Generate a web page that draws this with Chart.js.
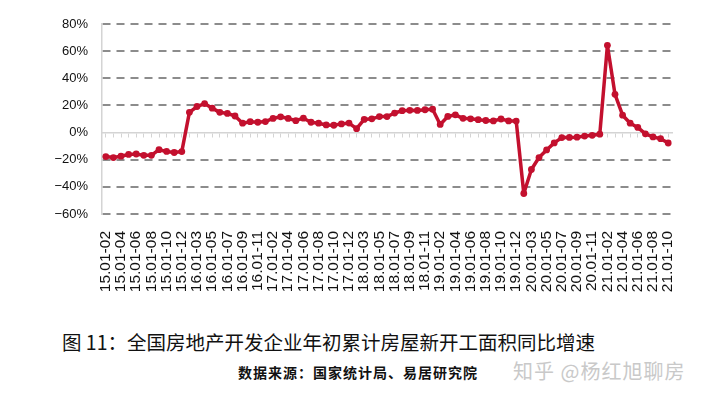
<!DOCTYPE html>
<html>
<head>
<meta charset="utf-8">
<script src="https://cdn.jsdelivr.net/npm/chart.js@4.4.1/dist/chart.umd.min.js"></script>
<style>
  html, body { margin: 0; padding: 0; background: #fff; }
  #wrap { position: relative; width: 720px; height: 408px; overflow: hidden; }
  #chartBox { position: absolute; left: 0; top: 0; width: 720px; height: 310px; }
  .cap { position: absolute; white-space: nowrap; font-family: "Noto Sans CJK SC", sans-serif; }
  #title { left: 62px; top: 327px; font-size: 19.5px; color: #111; }
  #source { left: 238px; top: 362px; font-size: 14px; font-weight: 700; color: #111; letter-spacing: 1px; }
  #mark { left: 513px; top: 356px; font-size: 20px; color: #c9c9c9; letter-spacing: 1px; }
</style>
</head>
<body>
<div id="wrap">
  <div id="chartBox"><canvas id="growthChart"></canvas></div>
  <div class="cap" id="title">图 11：全国房地产开发企业年初累计房屋新开工面积同比增速</div>
  <div class="cap" id="source">数据来源：国家统计局、易居研究院</div>
  <div class="cap" id="mark">知乎 @杨红旭聊房</div>
</div>
<script>
const months = [
  "15.01-02", "15.01-03", "15.01-04", "15.01-05", "15.01-06", "15.01-07", "15.01-08", "15.01-09", "15.01-10", "15.01-11", "15.01-12",
  "16.01-02", "16.01-03", "16.01-04", "16.01-05", "16.01-06", "16.01-07", "16.01-08", "16.01-09", "16.01-10", "16.01-11", "16.01-12",
  "17.01-02", "17.01-03", "17.01-04", "17.01-05", "17.01-06", "17.01-07", "17.01-08", "17.01-09", "17.01-10", "17.01-11", "17.01-12",
  "18.01-02", "18.01-03", "18.01-04", "18.01-05", "18.01-06", "18.01-07", "18.01-08", "18.01-09", "18.01-10", "18.01-11", "18.01-12",
  "19.01-02", "19.01-03", "19.01-04", "19.01-05", "19.01-06", "19.01-07", "19.01-08", "19.01-09", "19.01-10", "19.01-11", "19.01-12",
  "20.01-02", "20.01-03", "20.01-04", "20.01-05", "20.01-06", "20.01-07", "20.01-08", "20.01-09", "20.01-10", "20.01-11", "20.01-12",
  "21.01-02", "21.01-03", "21.01-04", "21.01-05", "21.01-06", "21.01-07", "21.01-08", "21.01-09", "21.01-10"
];

// 新开工面积累计同比 (%)
const growth = [
  -17.7, -18.4, -17.4, -16.1, -15.8, -16.8, -16.8, -12.6, -13.9, -14.7, -14.0,
  14.9, 19.2, 21.4, 18.0, 14.9, 14.1, 12.2, 6.9, 8.0, 7.6, 8.1,
  10.4, 11.6, 10.4, 8.8, 10.6, 7.6, 6.9, 5.6, 5.4, 6.4, 7.0,
  2.9, 9.7, 10.1, 11.8, 11.8, 14.4, 16.1, 16.4, 16.3, 16.8, 17.2,
  6.0, 11.9, 13.1, 10.5, 10.1, 9.5, 8.9, 8.6, 10.0, 8.6, 8.5,
  -44.9, -27.2, -18.4, -12.8, -7.6, -3.7, -3.6, -3.4, -2.6, -2.0, -1.2,
  64.3, 28.2, 12.8, 6.9, 3.8, -0.9, -3.2, -4.5, -7.7
];

const yTicks = [-60, -40, -20, 0, 20, 40, 60, 80];

const red = "#c3102e";

new Chart(document.getElementById("growthChart").getContext("2d"), {
  type: "line",
  data: {
    labels: months,
    datasets: [
      {
        data: growth,
        borderColor: red,
        backgroundColor: red,
        borderWidth: 3.5,
        borderJoinStyle: "round",
        borderCapStyle: "round",
        pointRadius: 3.4,
        pointBorderWidth: 0,
        pointBackgroundColor: red,
        tension: 0,
      },
    ],
  },
  options: {
    responsive: true,
    maintainAspectRatio: false,
    animation: false,
    layout: { padding: { top: 24, right: 48, left: 0, bottom: 0 } },
    plugins: { legend: { display: false }, tooltip: { enabled: false } },
    scales: {
      x: {
        type: "category",
        offset: true,
        grid: { display: false },
        border: { display: false },
        ticks: {
          autoSkip: false,
          minRotation: 90,
          maxRotation: 90,
          padding: 9,
          color: "#111",
          font: { family: "Liberation Sans", size: 15.5 },
          callback: function (v, i) {
            return i % 2 === 0 ? months[i] : "";
          },
        },
        afterFit: function (s) {
          s.height = 96;
        },
      },
      zero: {
        type: "category",
        axis: "x",
        position: { y: 0 },
        offset: true,
        grid: {
          drawOnChartArea: false,
          drawTicks: true,
          tickLength: 4,
          color: "#d4d4d4",
        },
        border: { color: "#d4d4d4", width: 1.5 },
        ticks: { display: false },
      },
      y: {
        min: -60,
        max: 80,
        afterBuildTicks: function (s) {
          s.ticks = yTicks.map((v) => ({ value: v }));
        },
        grid: {
          drawTicks: false,
          lineWidth: 2,
          color: function (c) {
            return c.tick && c.tick.value === 0 ? "rgba(0,0,0,0)" : "#8c8c8c";
          },
        },
        border: { color: "#d4d4d4", width: 1.5, dash: [8, 6] },
        ticks: {
          padding: 14,
          color: "#111",
          font: { family: "Liberation Sans", size: 13 },
          callback: function (v) {
            return (v < 0 ? "\u2212" + Math.abs(v) : v) + "%";
          },
        },
        afterFit: function (s) {
          s.width = 102;
        },
      },
    },
  },
});
</script>
</body>
</html>
